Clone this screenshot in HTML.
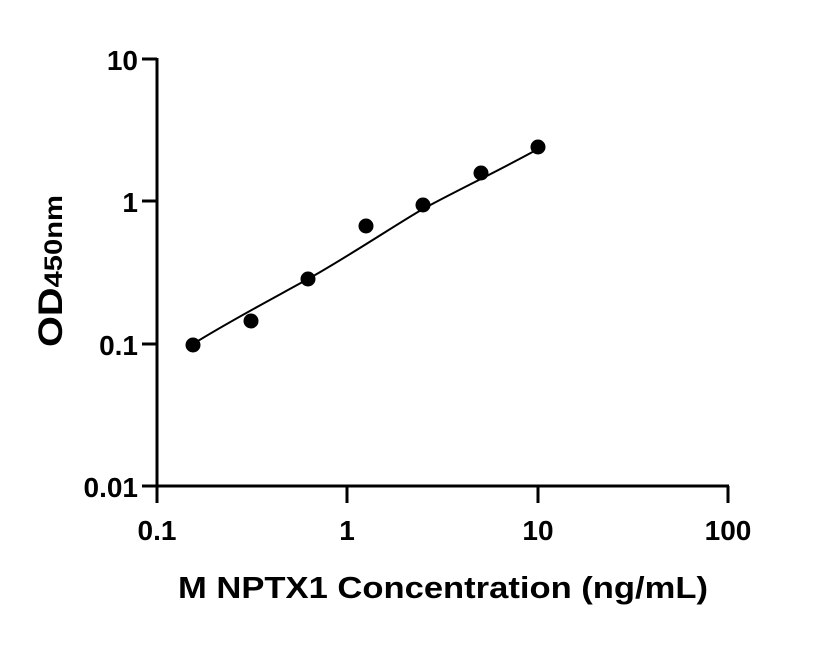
<!DOCTYPE html>
<html><head><meta charset="utf-8"><style>body{margin:0;background:#fff}</style></head><body>
<svg width="816" height="640" xmlns="http://www.w3.org/2000/svg" font-family="Liberation Sans, sans-serif" font-weight="bold">
<rect width="816" height="640" fill="#fff"/>
<g stroke="#000" stroke-width="3" fill="none">
<line x1="157" y1="58" x2="157" y2="503"/>
<line x1="142" y1="486" x2="729" y2="486"/>
<line x1="142" y1="59" x2="157" y2="59"/>
<line x1="142" y1="201" x2="157" y2="201"/>
<line x1="142" y1="344" x2="157" y2="344"/>
<line x1="347" y1="486" x2="347" y2="503"/>
<line x1="538" y1="486" x2="538" y2="503"/>
<line x1="728" y1="486" x2="728" y2="503"/>
</g>
<path d="M193,344 C230,321 270,300 308,279 S400,222 423,209 S500,170 538,149" stroke="#000" stroke-width="2" fill="none"/>
<g fill="#000">
<circle cx="193" cy="345" r="7.5"/><circle cx="251" cy="321" r="7.5"/><circle cx="308" cy="279" r="7.5"/>
<circle cx="366" cy="226" r="7.5"/><circle cx="423" cy="205" r="7.5"/><circle cx="481" cy="173" r="7.5"/><circle cx="538" cy="147" r="7.5"/>
</g>
<g font-size="28" text-anchor="end">
<text x="138" y="70">10</text><text x="138" y="212">1</text><text x="138" y="355">0.1</text><text x="138" y="497">0.01</text>
</g>
<g font-size="28" text-anchor="middle">
<text x="157" y="540">0.1</text><text x="347" y="540">1</text><text x="538" y="540">10</text><text x="728" y="540">100</text>
</g>
<text x="443" y="598" font-size="31" text-anchor="middle" textLength="530" lengthAdjust="spacingAndGlyphs">M NPTX1 Concentration (ng/mL)</text>
<text transform="translate(62,271) rotate(-90)" font-size="34" text-anchor="middle" textLength="152" lengthAdjust="spacingAndGlyphs">OD<tspan font-size="25">450nm</tspan></text>
</svg>
</body></html>
